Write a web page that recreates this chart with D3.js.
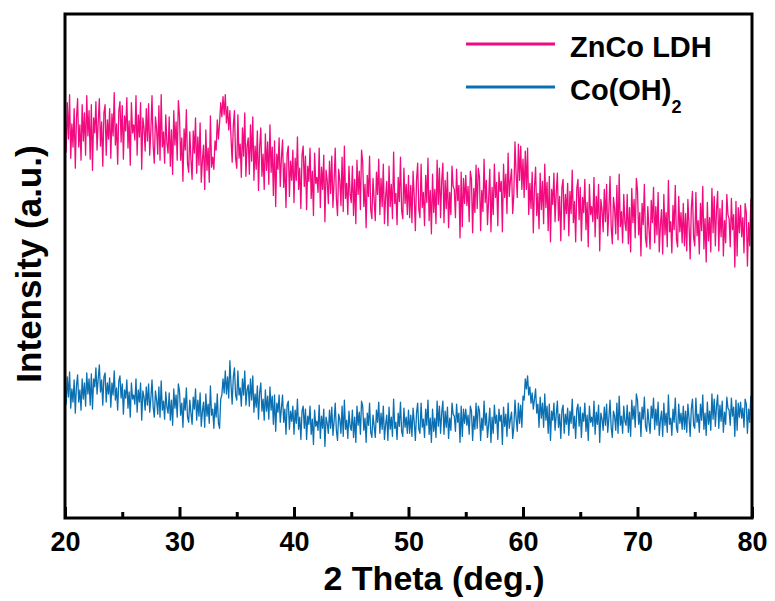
<!DOCTYPE html>
<html>
<head>
<meta charset="utf-8">
<script src="https://cdn.jsdelivr.net/npm/d3@7"></script>
<style>
  body { margin: 0; background: #fff; }
  text { font-family: "Liberation Sans", Arial, sans-serif; font-weight: bold; fill: #000; }
</style>
</head>
<body>
<div id="chart"></div>
<script>
// 2 theta grid, 0.1 deg steps from 20 to 80
const thetaStart = 20;
const thetaStep = 0.1;

const xTicks = [20, 30, 40, 50, 60, 70, 80];
const xMinorTicks = [25, 35, 45, 55, 65, 75];

const seriesNames = ['ZnCo LDH', 'Co(OH)'];

// intensity (a.u.), ZnCo LDH
const znCoLdh = [
  399, 363, 412, 376, 420, 357, 391, 368, 406, 347,
  396, 416, 368, 390, 355, 410, 374, 402, 360, 419,
  379, 404, 356, 410, 345, 397, 382, 413, 365, 393,
  416, 369, 393, 349, 402, 410, 360, 395, 376, 406,
  357, 401, 379, 422, 370, 391, 351, 404, 413, 373,
  409, 356, 399, 384, 417, 367, 394, 350, 412, 382,
  390, 375, 419, 360, 400, 378, 412, 346, 397, 387,
  364, 406, 374, 411, 360, 385, 419, 369, 352, 398,
  386, 361, 409, 355, 420, 368, 383, 352, 400, 372,
  362, 398, 349, 385, 341, 404, 370, 393, 355, 414,
  399, 355, 377, 334, 386, 365, 405, 352, 343, 383,
  356, 336, 384, 362, 397, 342, 378, 350, 392, 333,
  355, 370, 326, 385, 345, 367, 333, 399, 348, 358,
  346, 374, 365, 395, 376, 392, 412, 398, 418, 400,
  420, 392, 408, 385, 404, 377, 353, 389, 404, 357,
  347, 400, 357, 371, 338, 387, 359, 402, 339, 369,
  377, 341, 390, 354, 398, 335, 369, 346, 384, 325,
  367, 387, 339, 361, 326, 381, 345, 373, 331, 390,
  343, 368, 320, 374, 309, 361, 346, 377, 329, 357,
  375, 328, 352, 308, 361, 369, 319, 354, 335, 365,
  313, 357, 335, 378, 326, 347, 307, 360, 369, 329,
  359, 306, 349, 334, 367, 317, 344, 300, 362, 332,
  338, 323, 367, 308, 348, 326, 360, 294, 345, 335,
  312, 354, 322, 359, 308, 333, 367, 317, 300, 346,
  335, 310, 358, 304, 369, 317, 332, 301, 349, 321,
  313, 349, 300, 336, 292, 355, 321, 344, 306, 365,
  353, 309, 331, 288, 340, 319, 359, 306, 297, 337,
  315, 295, 343, 321, 356, 301, 337, 309, 351, 292,
  319, 334, 290, 349, 309, 331, 297, 363, 312, 322,
  291, 338, 314, 358, 305, 297, 347, 312, 331, 301,
  340, 298, 330, 293, 344, 319, 285, 335, 352, 306,
  298, 351, 308, 323, 290, 340, 313, 357, 295, 325,
  282, 341, 303, 326, 292, 355, 311, 347, 298, 334,
  352, 293, 335, 307, 343, 288, 323, 301, 349, 329,
  326, 298, 346, 315, 330, 278, 343, 289, 337, 312,
  340, 310, 329, 294, 344, 336, 283, 327, 303, 350,
  307, 347, 338, 285, 325, 304, 356, 313, 335, 291,
  316, 346, 284, 328, 301, 351, 318, 333, 290, 343,
  324, 334, 284, 351, 318, 341, 302, 362, 319, 335,
  346, 302, 321, 373, 341, 318, 371, 335, 369, 326,
  356, 318, 364, 326, 367, 301, 332, 307, 343, 283,
  328, 348, 300, 322, 287, 342, 306, 334, 292, 351,
  308, 333, 285, 339, 274, 326, 311, 342, 294, 322,
  342, 295, 319, 275, 328, 336, 286, 321, 302, 332,
  280, 324, 302, 345, 293, 314, 274, 327, 336, 296,
  328, 275, 318, 303, 336, 286, 313, 269, 331, 301,
  309, 294, 338, 279, 319, 297, 331, 265, 316, 306,
  284, 326, 294, 331, 280, 305, 339, 289, 272, 318,
  307, 282, 330, 276, 341, 289, 304, 273, 321, 293,
  285, 321, 272, 308, 264, 327, 293, 316, 278, 337,
  325, 281, 303, 260, 312, 291, 331, 278, 269, 309,
  287, 267, 315, 293, 328, 273, 309, 281, 323, 264,
  291, 306, 262, 321, 281, 303, 269, 335, 284, 294,
  263, 310, 286, 330, 277, 269, 319, 284, 303, 273,
  312, 270, 302, 265, 316, 291, 257, 307, 324, 278,
  270, 323, 280, 295, 262, 312, 285, 329, 267, 297,
  254, 313, 275, 298, 264, 327, 283, 319, 270, 306,
  324, 265, 307, 279, 315, 260, 295, 273, 321, 301,
  297, 269, 317, 286, 301, 249, 314, 260, 308, 283,
  310, 279, 298, 263, 312, 303, 250, 293, 270, 316,
  276
];

// intensity (a.u.), Co(OH)2
const coOH2 = [
  133, 113, 140, 120, 145, 109, 128, 115, 137, 104,
  131, 142, 115, 127, 107, 138, 118, 134, 111, 144,
  123, 138, 112, 143, 108, 138, 130, 149, 123, 138,
  152, 125, 137, 112, 140, 144, 115, 134, 123, 139,
  110, 134, 122, 146, 117, 129, 107, 136, 141, 119,
  133, 103, 127, 119, 137, 109, 125, 100, 134, 118,
  122, 113, 138, 105, 127, 115, 134, 97, 126, 120,
  107, 130, 112, 133, 105, 119, 137, 110, 100, 126,
  117, 103, 130, 100, 136, 107, 116, 98, 125, 110,
  104, 124, 97, 117, 92, 128, 109, 122, 100, 133,
  126, 102, 114, 90, 119, 107, 129, 100, 95, 117,
  104, 93, 120, 108, 128, 97, 117, 101, 124, 91,
  106, 115, 90, 123, 101, 113, 94, 131, 102, 108,
  89, 114, 100, 123, 94, 89, 118, 122, 138, 124,
  146, 123, 140, 119, 156, 132, 113, 140, 149, 122,
  117, 146, 122, 129, 111, 138, 122, 146, 112, 127,
  132, 111, 138, 117, 141, 105, 123, 110, 131, 98,
  124, 134, 106, 118, 97, 127, 106, 121, 98, 130,
  107, 121, 93, 122, 86, 114, 105, 122, 95, 109,
  122, 95, 108, 83, 112, 116, 88, 106, 96, 111,
  83, 107, 94, 118, 88, 100, 78, 106, 111, 89,
  108, 78, 101, 93, 111, 83, 98, 73, 107, 91,
  96, 87, 112, 79, 101, 89, 108, 71, 100, 94,
  84, 107, 89, 110, 82, 96, 114, 87, 77, 103,
  98, 84, 111, 81, 117, 88, 97, 79, 106, 91,
  87, 107, 80, 100, 75, 111, 92, 105, 83, 116,
  111, 87, 99, 75, 104, 92, 114, 85, 80, 102,
  91, 80, 107, 95, 115, 84, 104, 88, 111, 78,
  93, 102, 77, 110, 88, 100, 81, 118, 89, 95,
  78, 104, 91, 115, 86, 81, 109, 90, 100, 84,
  107, 84, 102, 81, 109, 95, 77, 104, 114, 88,
  84, 114, 90, 98, 80, 108, 92, 117, 83, 99,
  75, 108, 86, 99, 80, 116, 91, 111, 84, 104,
  116, 83, 106, 90, 110, 79, 99, 87, 114, 103,
  101, 86, 113, 95, 104, 75, 111, 81, 108, 94,
  108, 92, 102, 83, 111, 106, 77, 101, 88, 114,
  89, 111, 106, 77, 99, 87, 116, 92, 104, 80,
  93, 109, 75, 100, 84, 112, 94, 102, 78, 108,
  96, 102, 73, 110, 91, 103, 81, 114, 89, 98,
  105, 79, 90, 117, 99, 86, 114, 94, 112, 90,
  121, 117, 138, 128, 141, 122, 130, 114, 124, 108,
  118, 128, 104, 113, 90, 120, 99, 114, 90, 123,
  97, 111, 84, 113, 77, 106, 97, 114, 87, 102,
  116, 90, 103, 79, 107, 112, 84, 103, 93, 109,
  82, 106, 94, 118, 89, 101, 79, 108, 113, 91,
  110, 80, 104, 96, 114, 86, 102, 77, 111, 95,
  100, 91, 116, 83, 105, 93, 112, 75, 104, 98,
  87, 110, 92, 113, 85, 99, 117, 90, 80, 106,
  101, 87, 114, 84, 121, 92, 101, 84, 111, 96,
  92, 112, 85, 105, 81, 117, 98, 111, 90, 123,
  117, 93, 105, 81, 110, 98, 120, 91, 86, 108,
  95, 84, 111, 99, 119, 88, 108, 92, 115, 82,
  97, 106, 81, 114, 92, 104, 85, 122, 93, 99,
  82, 108, 95, 119, 90, 85, 113, 94, 104, 88,
  111, 88, 106, 85, 113, 99, 81, 108, 118, 92,
  89, 119, 95, 103, 85, 113, 97, 122, 88, 104,
  82, 115, 93, 106, 87, 123, 98, 118, 91, 111,
  122, 89, 112, 96, 116, 85, 105, 93, 120, 109,
  107, 92, 119, 101, 110, 81, 117, 87, 114, 100,
  115, 99, 109, 90, 118, 113, 84, 108, 95, 121,
  103
];

class XrdChart {

  constructor(_config) {
    this.config = {
      parentElement: _config.parentElement,
      containerWidth: 775,
      containerHeight: 601,
      margin: { top: 14, bottom: 83, right: 23, left: 65 }
    }
    this.initVis();
  }

  initVis() {
    let vis = this;

    vis.width = vis.config.containerWidth - vis.config.margin.left - vis.config.margin.right;
    vis.height = vis.config.containerHeight - vis.config.margin.top - vis.config.margin.bottom;

    vis.svg = d3.select(vis.config.parentElement).append('svg')
      .attr('width', vis.config.containerWidth)
      .attr('height', vis.config.containerHeight);

    vis.chart = vis.svg.append('g')
      .attr('transform', `translate(${vis.config.margin.left}, ${vis.config.margin.top})`);

    vis.xScale = d3.scaleLinear()
      .domain([20, 80])
      .range([0, vis.width]);

    vis.yScale = d3.scaleLinear()
      .domain([0, 500])
      .range([vis.height, 0]);

    vis.line = d3.line()
      .x((d, i) => vis.xScale(thetaStart + i * thetaStep))
      .y(d => vis.yScale(d));

    vis.series = [
      { name: seriesNames[0], values: znCoLdh, color: '#f20a7e' },
      { name: seriesNames[1], values: coOH2, color: '#0b70b2' }
    ];

    vis.chart.selectAll('.trace')
      .data(vis.series)
      .join('path')
      .attr('class', 'trace')
      .attr('fill', 'none')
      .attr('stroke', d => d.color)
      .attr('stroke-width', 1.3)
      .attr('stroke-linejoin', 'round')
      .attr('d', d => vis.line(d.values));

    // ticks point inward
    vis.xAxis = d3.axisBottom(vis.xScale)
      .tickValues(xTicks)
      .tickSize(-11)
      .tickSizeOuter(0)
      .tickPadding(14)
      .tickFormat(d3.format('d'));

    vis.xMinorAxis = d3.axisBottom(vis.xScale)
      .tickValues(xMinorTicks)
      .tickSize(-6)
      .tickSizeOuter(0)
      .tickFormat('');

    vis.xAxisGroup = vis.chart.append('g')
      .attr('transform', `translate(0, ${vis.height})`)
      .call(vis.xAxis);

    vis.chart.append('g')
      .attr('transform', `translate(0, ${vis.height})`)
      .call(vis.xMinorAxis);

    vis.chart.selectAll('.tick line')
      .attr('stroke', '#000')
      .attr('stroke-width', 3);
    vis.chart.selectAll('.domain').remove();

    vis.xAxisGroup.selectAll('text')
      .attr('font-size', 27)
      .attr('font-family', '"Liberation Sans", Arial, sans-serif')
      .attr('font-weight', 'bold')
      .attr('fill', '#000');

    vis.chart.append('rect')
      .attr('width', vis.width)
      .attr('height', vis.height)
      .attr('fill', 'none')
      .attr('stroke', '#000')
      .attr('stroke-width', 3);

    vis.svg.append('text')
      .attr('x', 434)
      .attr('y', 590)
      .attr('text-anchor', 'middle')
      .attr('font-size', 34)
      .text('2 Theta (deg.)');

    vis.svg.append('text')
      .attr('transform', 'translate(41, 264) rotate(-90)')
      .attr('text-anchor', 'middle')
      .attr('font-size', 35)
      .text('Intensity (a.u.)');

    vis.renderLegend();
  }

  renderLegend() {
    let vis = this;

    const legend = vis.svg.append('g')
      .attr('transform', 'translate(466, 44)');

    const items = legend.selectAll('g')
      .data(vis.series)
      .join('g')
      .attr('transform', (d, i) => `translate(0, ${i * 43})`);

    items.append('line')
      .attr('x1', 0)
      .attr('x2', 89)
      .attr('stroke', d => d.color)
      .attr('stroke-width', 3);

    const labels = items.append('text')
      .attr('x', 104)
      .attr('y', 13)
      .attr('font-size', 29)
      .text(d => d.name);

    // subscript for Co(OH)2
    labels.filter((d, i) => i === 1)
      .append('tspan')
      .attr('font-size', 18)
      .attr('dy', 13)
      .text('2');
  }
}

new XrdChart({ parentElement: '#chart' });
</script>
</body>
</html>
